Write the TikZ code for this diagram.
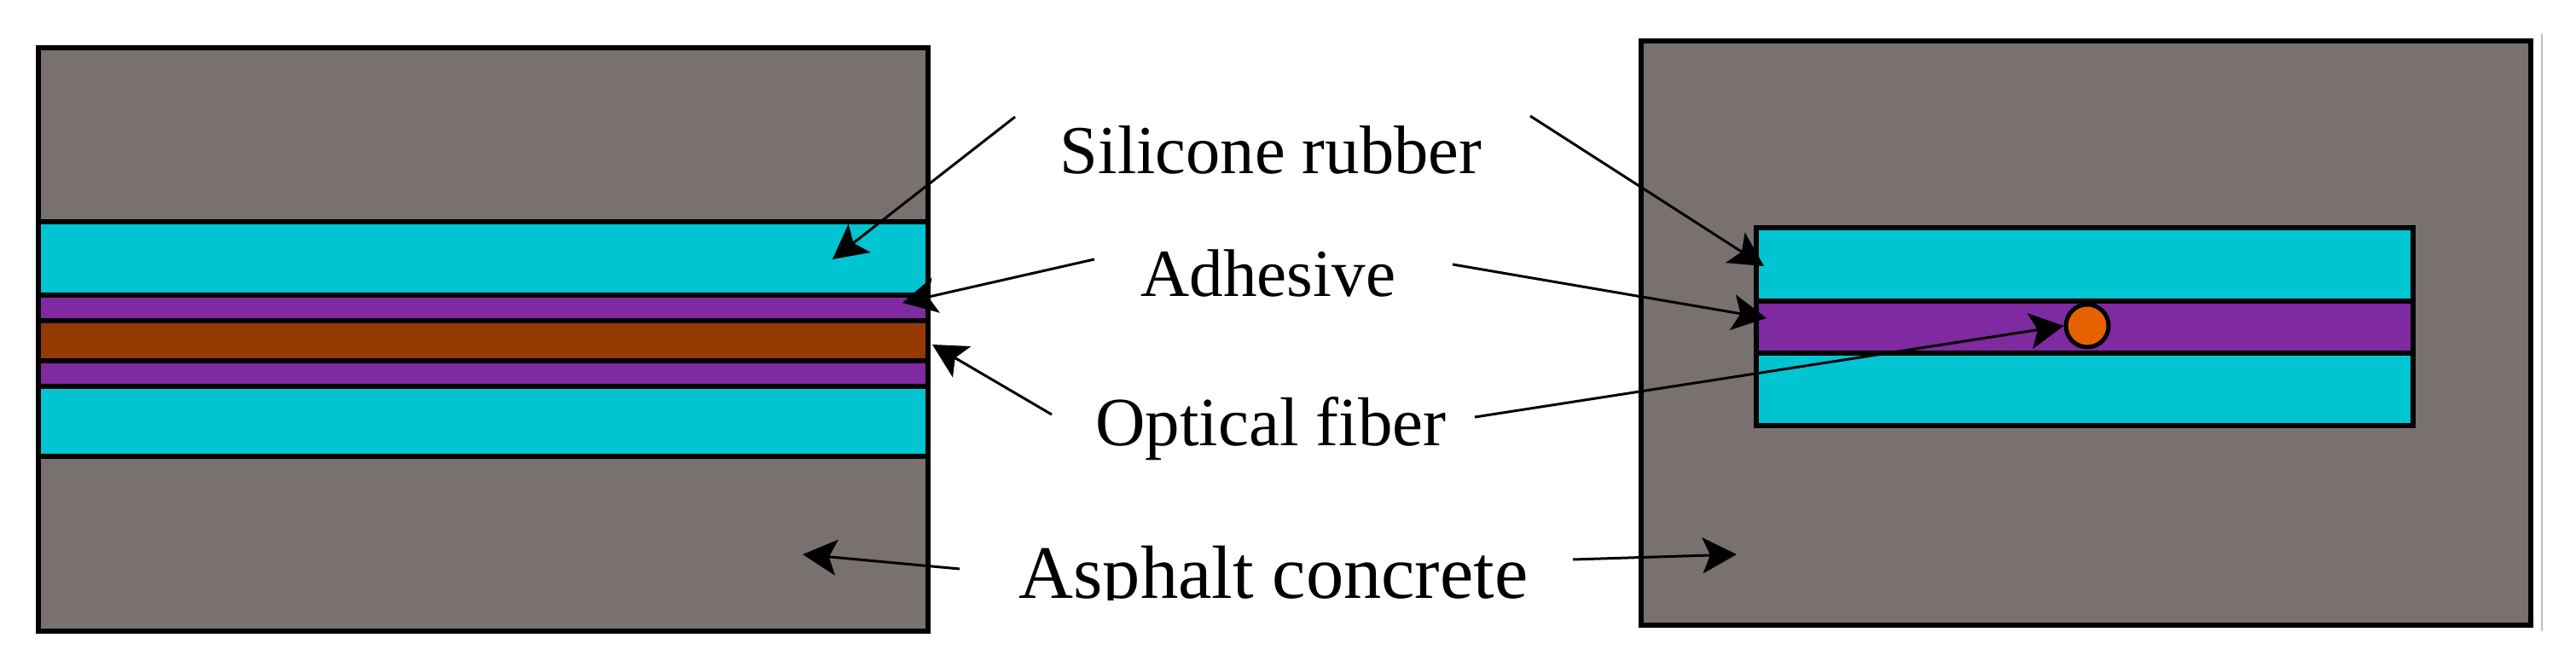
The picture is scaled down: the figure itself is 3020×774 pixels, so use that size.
\documentclass[tikz,border=0pt]{standalone}
\usepackage{fontspec}
\setmainfont{Liberation Serif}
\usetikzlibrary{arrows.meta}
\definecolor{asphalt}{HTML}{787170}
\definecolor{silicone}{HTML}{00C4D2}
\definecolor{adhesive}{HTML}{7F2AA0}
\definecolor{fiberbrown}{HTML}{953A00}
\definecolor{fiberorange}{HTML}{E66100}
\tikzset{
  layer/.style={draw=black,line width=6pt},
  leader/.style={draw=black,line width=3pt,-{Stealth[inset=9pt,length=40pt,width=42pt]}},
  lbl/.style={anchor=base,inner sep=0pt,text=black}
}
\begin{document}
\begin{tikzpicture}[x=1pt,y=-1pt]
\useasboundingbox (0,0) rectangle (3020,774);
% left section
\draw[layer,fill=asphalt] (45,56) rectangle (1088,740);
\draw[layer,fill=silicone] (45,260) rectangle (1088,346);
\draw[layer,fill=adhesive] (45,346) rectangle (1088,376);
\draw[layer,fill=fiberbrown] (45,376) rectangle (1088,423);
\draw[layer,fill=adhesive] (45,423) rectangle (1088,453);
\draw[layer,fill=silicone] (45,453) rectangle (1088,535);
% right section
\draw[layer,fill=asphalt] (1924,48) rectangle (2967,733);
\draw[layer,fill=silicone] (2059,267) rectangle (2829,353);
\draw[layer,fill=adhesive] (2059,353) rectangle (2829,414);
\draw[layer,fill=silicone] (2059,414) rectangle (2829,499);
\node[circle,draw=black,line width=5pt,fill=fiberorange,minimum size=50pt,inner sep=0pt] (fiber) at (2447,382) {};
\draw[black!25,line width=2pt] (2980,40) -- (2980,740);
% labels
\node[lbl,font=\fontsize{80.5}{90}\selectfont] (sil) at (1490,203) {Silicone rubber};
\node[lbl,font=\fontsize{79}{90}\selectfont] (adh) at (1487,347) {Adhesive};
\node[lbl,font=\fontsize{81}{90}\selectfont] (opt) at (1490,522) {Optical fiber};
\node[lbl,font=\fontsize{88.5}{90}\selectfont] (asp) at (1493,701) {Asphalt concrete};
\fill[white] (1150,704) rectangle (1900,774);
% leader ends
\coordinate (s1) at (1190,137); \coordinate (s1t) at (976,304);
\coordinate (a1) at (1283,304); \coordinate (a1t) at (1058,355);
\coordinate (o1) at (1233,486); \coordinate (o1t) at (1093,404);
\coordinate (c1) at (1125,667); \coordinate (c1t) at (941,650);
\coordinate (s2) at (1794,136); \coordinate (s2t) at (2068,312);
\coordinate (a2) at (1703,310); \coordinate (a2t) at (2071,373);
\coordinate (o2) at (1729,489); \coordinate (o2t) at (fiber.west);
\coordinate (c2) at (1844,656); \coordinate (c2t) at (2036,650);
\draw[leader] (s1) -- (s1t);
\draw[leader] (a1) -- (a1t);
\draw[leader] (o1) -- (o1t);
\draw[leader] (c1) -- (c1t);
\draw[leader] (s2) -- (s2t);
\draw[leader] (a2) -- (a2t);
\draw[leader] (o2) -- (o2t);
\draw[leader] (c2) -- (c2t);
\end{tikzpicture}
\end{document}
